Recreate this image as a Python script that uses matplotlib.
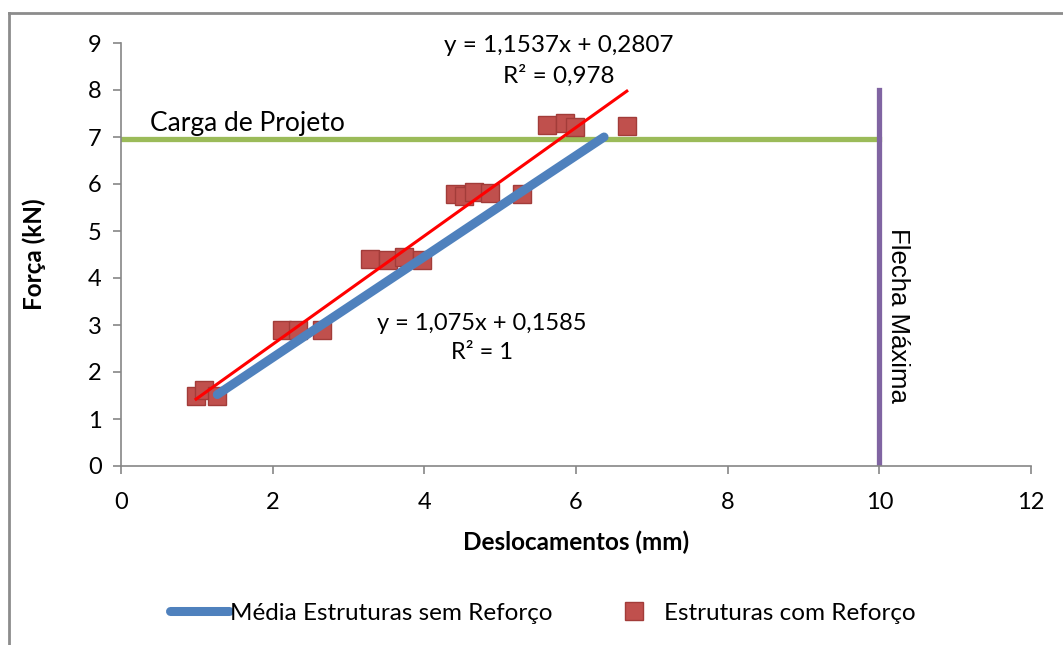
import matplotlib
matplotlib.use('Agg')
import matplotlib.pyplot as plt
from matplotlib.lines import Line2D
import numpy as np

plt.rcParams['font.family'] = ['Lato', 'DejaVu Sans']

# Estruturas com reforço (ensaios individuais)
x_com = [0.99, 1.09, 1.27, 2.12, 2.34, 2.65, 3.28, 3.52, 3.73, 3.97,
         4.41, 4.52, 4.65, 4.86, 5.29, 5.62, 5.85, 5.99, 6.67]
y_com = [1.49, 1.62, 1.49, 2.89, 2.89, 2.89, 4.40, 4.38, 4.45, 4.38,
         5.79, 5.74, 5.83, 5.81, 5.79, 7.25, 7.30, 7.21, 7.24]

# Média das estruturas sem reforço
x_sem = [1.27, 2.55, 3.95, 5.25, 6.37]
y_sem = [1.52, 2.90, 4.40, 5.80, 7.00]

# linhas de tendência
coef_com = (1.1537, 0.2807)
coef_sem = (1.075, 0.1585)

carga_projeto = 6.95
flecha_maxima = 10
flecha_topo = 8

grey = '#868686'

fig = plt.figure(figsize=(10.63, 6.45), dpi=100)
ax = fig.add_axes([121/1063, 1 - 466/645, 910/1063, 423/645])

ax.plot([0, flecha_maxima], [carga_projeto, carga_projeto], color='#9BBB59', lw=3.8, zorder=2)
ax.plot([flecha_maxima, flecha_maxima], [0, flecha_topo], color='#8064A2', lw=3.8, zorder=2)

ax.plot(x_com, y_com, ls='none', marker='s', ms=13, mfc='#C0504D', mec='#A23C39',
        mew=1, zorder=3, label='Estruturas com Reforço')

ax.plot(x_sem, y_sem, color='#4F81BD', lw=6.5, solid_capstyle='round', zorder=4,
        label='Média Estruturas sem Reforço')

xr = np.array([min(x_com), max(x_com)])
ax.plot(xr, coef_com[0] * xr + coef_com[1], color='red', lw=2.2, zorder=5)

ax.text(0.38, 7.02, 'Carga de Projeto', fontsize=19, va='bottom', ha='left')
ax.text(10.24, 3.21, 'Flecha Máxima', fontsize=18.5, rotation=270, va='center', ha='center',
        family='Liberation Sans')
ax.text(5.77, 8.62, 'y = 1,1537x + 0,2807\nR² = 0,978', fontsize=17.5, ha='center', va='center',
        linespacing=1.5)
ax.text(4.76, 2.72, 'y = 1,075x + 0,1585\nR² = 1', fontsize=17, ha='center', va='center',
        linespacing=1.5)

ax.set_xlim(0, 12)
ax.set_ylim(0, 9)
ax.set_xticks(range(0, 13, 2))
ax.set_yticks(range(0, 10))
for s in ['top', 'right']:
    ax.spines[s].set_visible(False)
for s in ['left', 'bottom']:
    ax.spines[s].set_color(grey)
    ax.spines[s].set_linewidth(1.2)
ax.tick_params(axis='both', colors=grey, labelcolor='black', labelsize=17, length=6, width=1.2, pad=8)
ax.tick_params(axis='x', pad=13)

ax.set_xlabel('Deslocamentos (mm)', fontsize=17.5, fontweight='bold', labelpad=12)
ax.set_ylabel('Força (kN)', fontsize=17.5, fontweight='bold', labelpad=30)

h, l = ax.get_legend_handles_labels()
fig.legend(h[::-1], l[::-1], loc='center', bbox_to_anchor=(543/1063, 1 - 613/645), ncol=2,
           frameon=False, fontsize=17.5, handlelength=2.4, handletextpad=0.05, columnspacing=2.15)

# moldura da área do gráfico
fig.add_artist(Line2D([9/1063, 1], [1 - 13/645, 1 - 13/645], color='#8c8c8c', lw=2))
fig.add_artist(Line2D([9/1063, 9/1063], [0, 1 - 13/645], color='#8c8c8c', lw=2))

fig.savefig('out.png', dpi=100)
